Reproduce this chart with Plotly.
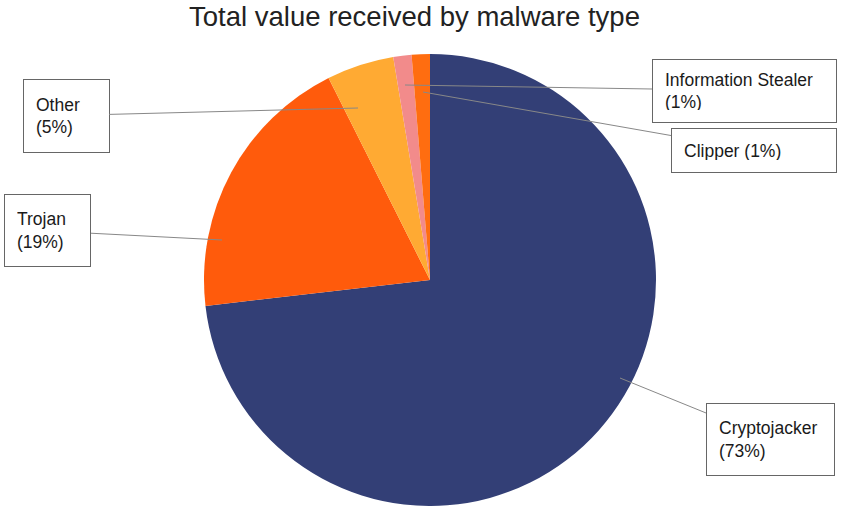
import plotly.graph_objects as go

categories = ["Cryptojacker", "Trojan", "Other", "Information Stealer", "Clipper"]
values = [73.1, 19.4, 4.8, 1.3, 1.3]
pct_labels = ["73%", "19%", "5%", "1%", "1%"]
colors = ["#333F76", "#FF5B0C", "#FFAA33", "#F28B8B", "#FF6D10"]

W, H = 859, 506
cx, cy, R = 430, 280, 226

fig = go.Figure(go.Pie(
    labels=categories,
    values=values,
    sort=False,
    direction="clockwise",
    rotation=0,
    textinfo="none",
    hoverinfo="label+percent",
    marker=dict(colors=colors, line=dict(width=0)),
    domain=dict(x=[(cx - R) / W, (cx + R) / W], y=[1 - (cy + R) / H, 1 - (cy - R) / H]),
    showlegend=False,
))

# label boxes: (anchor px x, anchor px y, box left, box top, box w, box h, text)
boxes = [
    (620, 378, 706, 403, 128, 72, "Cryptojacker<br>(" + pct_labels[0] + ")"),
    (222, 240, 5, 195, 86, 72, "Trojan<br>(" + pct_labels[1] + ")"),
    (358, 108, 23, 79, 86, 73, "Other<br>(" + pct_labels[2] + ")"),
    (405, 85, 652, 59, 184, 63, "Information Stealer<br>(" + pct_labels[3] + ")"),
    (423, 92, 671, 128, 165, 44, "Clipper (" + pct_labels[4] + ")"),
]
pad = 12
for axp, ayp, bl, bt, bw, bh, txt in boxes:
    bcx = bl + bw / 2
    bcy = bt + bh / 2
    fig.add_annotation(
        x=axp / W, y=1 - ayp / H, xref="paper", yref="paper",
        ax=bcx - axp, ay=bcy - ayp,
        showarrow=True, arrowhead=0, arrowwidth=1, arrowcolor="#888888",
        text=txt, align="left",
        width=bw - 2 * pad - 1, height=bh - 2 * pad - 1,
        borderpad=pad, bordercolor="#666666", borderwidth=1,
        bgcolor="white",
        font=dict(family="Liberation Sans, Arial", size=17.5, color="#1a1a1a"),
    )

fig.update_layout(
    width=W, height=H,
    margin=dict(l=0, r=0, t=0, b=0),
    paper_bgcolor="white",
    title=dict(text="Total value received by malware type", x=414.5 / W, xanchor="center",
               y=1 - 16 / H, yanchor="middle",
               font=dict(family="Liberation Sans, Arial", size=27.5, color="#222222")),
)

fig.write_html("out.html", config={"displayModeBar": False},
               post_script="document.body.style.margin='0';")
